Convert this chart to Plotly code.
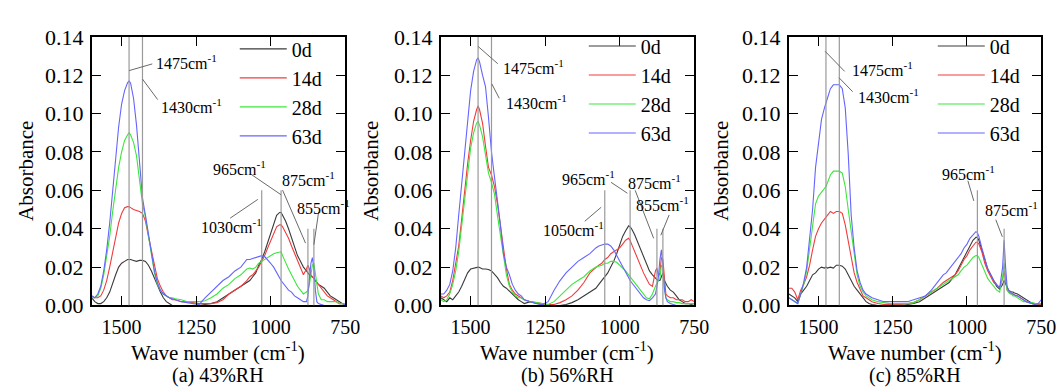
import plotly.graph_objects as go

# ---------------- data ----------------
wavenumber = [1600, 1590, 1580, 1570, 1560, 1550, 1540, 1530, 1520, 1510,
              1500, 1490, 1480, 1475, 1470, 1460, 1450, 1440, 1430, 1420,
              1410, 1400, 1390, 1380, 1370, 1360, 1350, 1340, 1330, 1320,
              1300, 1280, 1260, 1240, 1220, 1200, 1180, 1160, 1140, 1120,
              1100, 1080, 1070, 1060, 1050, 1040, 1030, 1020, 1010, 1000,
              990, 980, 970, 965, 960, 950, 940, 930, 920, 910,
              900, 890, 880, 875, 870, 865, 860, 855, 850, 845,
              840, 830, 820, 810, 800, 790, 780, 770, 760, 750]

series_names = ["0d", "14d", "28d", "63d"]

# (a) 43%RH
a_0d = [.004, .002, .001, .001, .002, .004, .007, .012, .016, .020,
        .022, .023, .024, .024, .024, .0235, .023, .0235, .0235, .023,
        .021, .018, .014, .010, .007, .004, .002, .001, 0, 0,
        0, 0, 0, 0, .0005, .001, .002, .004, .006, .008,
        .010, .012, .013, .015, .017, .021, .024, .028, .033, .038,
        .043, .047, .0485, .0485, .047, .044, .040, .035, .030, .026,
        .023, .020, .018, .017, .016, .015, .015, .014, .013, .012,
        .011, .010, .009, .007, .005, .004, .003, .002, .001, .0005]
a_14d = [.005, .004, .004, .005, .008, .013, .020, .028, .036, .043,
         .048, .051, .0515, .0515, .051, .050, .0495, .049, .048, .044,
         .036, .028, .020, .014, .010, .007, .005, .004, .003, .003,
         .002, .002, .0015, .001, .001, .001, .0015, .003, .006, .008,
         .010, .013, .015, .016, .018, .020, .023, .026, .030, .034,
         .038, .041, .042, .042, .041, .038, .035, .031, .027, .023,
         .019, .016, .019, .021, .019, .016, .015, .014, .013, .012,
         .011, .009, .007, .005, .004, .003, .002, .001, .001, .0005]
a_28d = [.004, .004, .005, .009, .016, .025, .036, .049, .061, .072,
         .080, .086, .089, .090, .089, .085, .078, .066, .053, .046,
         .036, .026, .017, .011, .008, .006, .005, .004, .004, .0035,
         .003, .002, .002, .002, .0025, .004, .006, .009, .011, .014,
         .016, .019, .0195, .019, .020, .022, .023, .024, .025, .026,
         .027, .0275, .028, .028, .026, .022, .019, .016, .013, .010,
         .008, .006, .007, .008, .011, .016, .021, .022, .017, .010,
         .006, .003, .003, .002, .002, .002, .002, .001, .001, .0005]
a_63d = [.005, .004, .006, .010, .018, .029, .043, .060, .077, .093,
         .105, .112, .116, .117, .116, .108, .094, .074, .056, .047,
         .037, .027, .018, .012, .008, .006, .005, .004, .0035, .003,
         .002, .0015, .001, .0005, .004, .007, .010, .013, .015, .018,
         .020, .024, .024, .0245, .025, .0255, .026, .0255, .024, .022,
         .020, .017, .014, .013, .012, .010, .008, .007, .005, .004,
         .003, .002, .002, .005, .014, .022, .025, .019, .008, .002,
         .001, .0005, 0, 0, 0, 0, 0, 0, 0, .0005]

# (b) 56%RH
b_0d = [.004, .003, .002, .004, .003, .005, .007, .010, .014, .017,
        .019, .0195, .020, .020, .0198, .019, .019, .0188, .018, .0165,
        .0145, .012, .010, .009, .0075, .006, .004, .003, .002, .001,
        .002, .001, .0005, 0, 0, 0, .0005, .0015, .003, .005,
        .007, .009, .011, .013, .015, .017, .020, .023, .027, .032,
        .036, .039, .0415, .041, .040, .037, .033, .029, .025, .021,
        .018, .016, .014, .0135, .013, .013, .015, .017, .013, .011,
        .010, .008, .007, .005, .003, .002, .001, .001, .0005, 0]
b_14d = [.005, .004, .005, .007, .013, .021, .031, .045, .060, .074,
         .086, .096, .102, .104, .102, .095, .083, .072, .068, .062,
         .053, .042, .031, .019, .011, .008, .006, .005, .004, .003,
         .002, .0015, .001, .0005, .0005, .0015, .003, .005, .008, .012,
         .017, .020, .021, .022, .024, .025, .027, .028, .029, .030,
         .032, .034, .035, .034, .032, .028, .024, .020, .017, .014,
         .011, .010, .018, .0195, .015, .017, .025, .024, .012, .006,
         .005, .004, .004, .003, .003, .003, .002, .002, .003, .002]
b_28d = [.003, .002, .003, .006, .011, .018, .028, .042, .056, .070,
         .082, .090, .095, .096, .094, .088, .078, .069, .064, .058,
         .047, .037, .027, .016, .010, .007, .005, .004, .004, .003,
         .002, .0015, .001, .0005, .002, .005, .008, .011, .013, .015,
         .018, .020, .0205, .021, .022, .022, .023, .023, .0225, .021,
         .020, .018, .016, .015, .014, .012, .010, .008, .006, .004,
         .0035, .006, .010, .012, .013, .014, .021, .020, .009, .004,
         .003, .002, .002, .0015, .0015, .001, .001, .001, .001, .001]
b_63d = [.006, .006, .008, .011, .018, .030, .047, .064, .080, .097,
         .112, .122, .128, .129, .127, .120, .114, .098, .080, .067,
         .055, .042, .027, .020, .016, .011, .008, .006, .005, .003,
         .002, .001, .0005, .002, .008, .013, .017, .020, .023, .025,
         .027, .030, .031, .0315, .032, .032, .031, .029, .026, .023,
         .020, .017, .014, .013, .012, .010, .008, .006, .004, .003,
         .0025, .004, .006, .010, .015, .024, .029, .021, .009, .004,
         .002, .001, .0005, 0, 0, 0, 0, 0, 0, 0]

# (c) 85%RH
c_0d = [.006, .005, .004, .002, .006, .008, .010, .013, .016, .017,
        .019, .020, .0195, .020, .0195, .020, .0195, .021, .021, .0205,
        .019, .016, .013, .010, .008, .006, .004, .002, .001, .0005,
        0, 0, 0, 0, 0, .0005, .001, .002, .004, .006,
        .008, .010, .011, .012, .014, .016, .019, .022, .025, .028,
        .031, .034, .0355, .0355, .034, .029, .023, .019, .016, .013,
        .010, .0085, .011, .013, .011, .009, .008, .0075, .007, .007,
        .0065, .006, .005, .004, .003, .002, .001, .0005, 0, 0]
c_14d = [.009, .009, .007, .003, .008, .011, .015, .021, .029, .036,
         .040, .043, .045, .046, .047, .049, .048, .049, .049, .048,
         .042, .033, .024, .017, .012, .008, .005, .004, .003, .002,
         .001, .0005, .0005, .0005, .0005, .001, .0015, .003, .005, .007,
         .009, .012, .013, .014, .015, .016, .018, .021, .024, .026,
         .029, .031, .033, .033, .032, .028, .022, .018, .015, .012,
         .0105, .0095, .014, .018, .013, .008, .007, .0065, .006, .006,
         .0055, .005, .004, .003, .002, .0015, .001, .001, .0005, .0005]
c_28d = [.004, .003, .002, .001, .006, .011, .018, .030, .044, .053,
         .057, .059, .061, .062, .064, .068, .070, .070, .070, .069,
         .062, .050, .038, .026, .016, .010, .007, .005, .004, .003,
         .002, .0015, .001, .001, .001, .001, .0015, .003, .005, .007,
         .009, .011, .012, .013, .014, .015, .016, .018, .020, .021,
         .023, .025, .026, .026, .025, .021, .017, .014, .012, .010,
         .008, .007, .015, .022, .014, .008, .007, .006, .006, .005,
         .005, .004, .003, .002, .002, .0015, .0015, .001, .001, .001]
c_63d = [.004, .003, .002, .001, .006, .012, .020, .034, .050, .072,
         .086, .097, .103, .105, .108, .113, .115, .115, .115, .113,
         .103, .079, .047, .030, .018, .012, .008, .006, .005, .004,
         .003, .002, .002, .002, .002, .002, .003, .004, .005, .008,
         .012, .016, .017, .019, .021, .023, .025, .027, .030, .032,
         .035, .037, .0385, .038, .036, .030, .024, .019, .016, .013,
         .011, .009, .020, .034, .020, .010, .008, .007, .0065, .006,
         .0055, .005, .004, .003, .002, .0015, .001, .0005, .001, .003]

panel_series = [[a_0d, a_14d, a_28d, a_63d],
                [b_0d, b_14d, b_28d, b_63d],
                [c_0d, c_14d, c_28d, c_63d]]
panel_titles = ["(a) 43%RH", "(b) 56%RH", "(c) 85%RH"]

# marked wavenumbers: (value, top of guide line)
panel_marks = [
    [(1475, 0.14), (1430, 0.14), (1030, 0.06), (965, 0.06), (875, 0.04), (855, 0.04)],
    [(1475, 0.14), (1430, 0.14), (1050, 0.06), (965, 0.06), (875, 0.04), (855, 0.04)],
    [(1475, 0.14), (1430, 0.14), (965, 0.06), (875, 0.04)],
]
# labels: (text, label x, label y, leader from (x,y) to (x,y))
panel_labels = [
    [("1475", 1391, 0.1268, 1475, 0.1224, 1397, 0.1259),
     ("1430", 1374, 0.1039, 1430, 0.1180, 1379, 0.1073),
     ("965", 1199, 0.0717, 1065, 0.0683, 965, 0.0577),
     ("875", 968, 0.0659, 960, 0.0601, 883, 0.0325),
     ("855", 919, 0.0512, 839, 0.0488, 855, 0.0317),
     ("1030", 1239, 0.0415, 1136, 0.0455, 1043, 0.0553)],
    [("1475", 1398, 0.1244, 1475, 0.1350, 1409, 0.1260),
     ("1430", 1389, 0.1062, 1429, 0.1155, 1404, 0.1080),
     ("965", 1200, 0.0667, 1029, 0.0642, 974, 0.0585),
     ("875", 979, 0.0642, 948, 0.0600, 886, 0.0350),
     ("855", 952, 0.0528, 834, 0.0472, 862, 0.0366),
     ("1050", 1264, 0.0401, 1117, 0.0439, 1062, 0.0512)],
    [("1475", 1395, 0.1231, 1478, 0.1325, 1412, 0.1220),
     ("1430", 1373, 0.1093, 1431, 0.1187, 1385, 0.1114),
     ("965", 1091, 0.0691, 997, 0.0650, 977, 0.0545),
     ("875", 947, 0.0504, 903, 0.0447, 881, 0.0358)],
]

# ---------------- styling ----------------
W, H = 1064, 391
FONT = "Liberation Serif"
colors = ["#3a3a3a", "#f03c3c", "#3ce63c", "#6464ff"]
x_dom_px = [(85, 342), (439, 696), (792, 1048)]
y_top_px, y_bot_px = 18, 305
ylab_px = [18, 368, 723]
legend_px = [(236, 46), (590, 43), (944, 43)]

fig = go.Figure()
layout = dict(
    width=W, height=H, margin=dict(l=0, r=0, t=0, b=0),
    paper_bgcolor="white", plot_bgcolor="white",
    font=dict(family=FONT, size=20, color="black"),
    shapes=[], annotations=[],
)

for p in range(3):
    sfx = "" if p == 0 else str(p + 1)
    xa, ya = "x" + sfx, "y" + sfx
    leg = "legend" + sfx
    for name, ys, col in zip(series_names, panel_series[p], colors):
        fig.add_trace(go.Scatter(x=wavenumber, y=ys, mode="lines", name=name,
                                 line=dict(color=col, width=1.1),
                                 xaxis=xa, yaxis=ya, legend=leg,
                                 showlegend=True))
    x0, x1 = x_dom_px[p]
    layout["xaxis" + sfx] = dict(
        domain=[x0 / W, x1 / W], anchor=ya, range=[1600, 750],
        tickvals=[1500, 1250, 1000, 750], ticks="inside", ticklen=9,
        tickcolor="black", showline=True, linewidth=2, linecolor="black",
        mirror="ticks", showgrid=False, zeroline=False,
        tickfont=dict(family=FONT, size=20), ticklabelstandoff=3)
    layout["yaxis" + sfx] = dict(
        domain=[1 - y_bot_px / H, 1 - y_top_px / H], anchor=xa,
        range=[0, 0.14], dtick=0.02, tickformat=".2f", ticks="inside",
        ticklen=9, tickcolor="black", showline=True, linewidth=2,
        linecolor="black", mirror="ticks", showgrid=False, zeroline=False,
        tickfont=dict(family=FONT, size=22), ticklabelstandoff=2)
    lx, ly = legend_px[p]
    layout[leg] = dict(x=(lx - 6) / W, y=1 - (ly - 36) / H, xanchor="left",
                       yanchor="top", bgcolor="rgba(0,0,0,0)",
                       font=dict(family=FONT, size=20), itemwidth=47,
                       tracegroupgap=0, traceorder="normal")
    for wn, top in panel_marks[p]:
        layout["shapes"].append(dict(type="line", xref=xa, yref=ya,
                                     x0=wn, x1=wn, y0=0, y1=top,
                                     line=dict(color="#9a9a9a", width=1.2)))
    for txt, tx, ty, ax0, ay0, ax1, ay1 in panel_labels[p]:
        layout["shapes"].append(dict(type="line", xref=xa, yref=ya,
                                     x0=ax0, y0=ay0, x1=ax1, y1=ay1,
                                     line=dict(color="#6a6a6a", width=1)))
        layout["annotations"].append(dict(
            text=txt + "cm<sup>-1</sup>", x=tx, y=ty, xref=xa, yref=ya,
            xanchor="left", yanchor="middle", showarrow=False,
            font=dict(family=FONT, size=16, color="black")))
    cx = (x0 + x1) / 2
    layout["annotations"].append(dict(
        text="Wave number (cm<sup>-1</sup>)", x=cx / W, y=1 - 354 / H,
        xref="paper", yref="paper", xanchor="center", yanchor="middle",
        showarrow=False, font=dict(family=FONT, size=21)))
    layout["annotations"].append(dict(
        text=panel_titles[p], x=cx / W, y=1 - 380 / H,
        xref="paper", yref="paper", xanchor="center", yanchor="middle",
        showarrow=False, font=dict(family=FONT, size=20)))
    layout["annotations"].append(dict(
        text="Absorbance", x=ylab_px[p] / W, y=1 - 161.5 / H,
        xref="paper", yref="paper", xanchor="center", yanchor="middle",
        textangle=-90, showarrow=False, font=dict(family=FONT, size=21)))

fig.update_layout(**layout)
fig.write_html("out.html")
